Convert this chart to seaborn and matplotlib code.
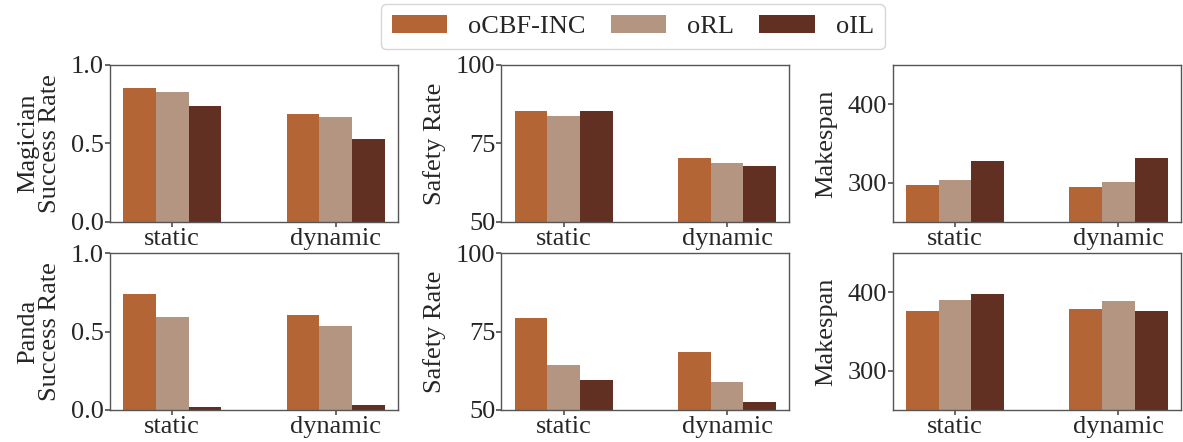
import numpy as np
import pandas as pd
import matplotlib.pyplot as plt
import seaborn as sns

sns.set_theme(style="ticks")
plt.rcParams['font.family'] = ['Liberation Serif', 'DejaVu Serif']

# data
methods = ["oCBF-INC", "oRL", "oIL"]
settings = ["static", "dynamic"]
colors = ["#B46536", "#B39582", "#622F23"]

# Magician (top row), values per method: [static, dynamic]
mag_success = {"oCBF-INC": [0.855, 0.689], "oRL": [0.830, 0.670], "oIL": [0.738, 0.528]}
mag_safety = {"oCBF-INC": [85.3, 70.3], "oRL": [83.7, 68.7], "oIL": [85.3, 67.8]}
mag_makespan = {"oCBF-INC": [296.6, 294.2], "oRL": [302.9, 300.2], "oIL": [327.1, 331.0]}

# Panda (bottom row)
pan_success = {"oCBF-INC": [0.740, 0.606], "oRL": [0.594, 0.536], "oIL": [0.021, 0.034]}
pan_safety = {"oCBF-INC": [79.2, 68.6], "oRL": [64.5, 59.0], "oIL": [59.7, 52.6]}
pan_makespan = {"oCBF-INC": [376.1, 378.7], "oRL": [390.2, 388.9], "oIL": [397.8, 376.1]}


def to_long(d):
    rows = []
    for m in methods:
        for s, v in zip(settings, d[m]):
            rows.append({"setting": s, "method": m, "value": v})
    return pd.DataFrame(rows)


panels = [
    [(mag_success, "Magician\nSuccess Rate", (0, 1), [0, 0.5, 1.0]),
     (mag_safety, "Safety Rate", (50, 100), [50, 75, 100]),
     (mag_makespan, "Makespan", (250, 450), [300, 400])],
    [(pan_success, "Panda\nSuccess Rate", (0, 1), [0, 0.5, 1.0]),
     (pan_safety, "Safety Rate", (50, 100), [50, 75, 100]),
     (pan_makespan, "Makespan", (250, 450), [300, 400])],
]

fig, axes = plt.subplots(2, 3, figsize=(11.83, 4.42), dpi=100)
fig.subplots_adjust(left=0.093, right=0.998, top=0.853, bottom=0.0724,
                    wspace=0.36, hspace=0.2)

fs = 19
for r in range(2):
    for c in range(3):
        ax = axes[r, c]
        d, lab, lim, ticks = panels[r][c]
        df = to_long(d)
        sns.barplot(data=df, x="setting", y="value", hue="method",
                    palette=colors, width=0.6, ax=ax, legend=(r == 0 and c == 0),
                    saturation=1, linewidth=0)
        ax.set_xlim(-0.38, 1.38)
        ax.set_ylim(*lim)
        ax.set_yticks(ticks)
        if ticks[1] == 0.5:
            ax.set_yticklabels(["0.0", "0.5", "1.0"])
        ax.set_xlabel("")
        ax.set_ylabel(lab, fontsize=fs, linespacing=1.0, labelpad=7)
        ax.tick_params(axis="both", labelsize=fs, pad=1, length=3.5, color="#555555")
        for sp in ax.spines.values():
            sp.set_color("#555555")
            sp.set_linewidth(1.0)

handles, labels = axes[0, 0].get_legend_handles_labels()
axes[0, 0].get_legend().remove()
fig.legend(handles, labels, loc="upper center", bbox_to_anchor=(0.535, 0.99),
           borderaxespad=0, ncol=3, fontsize=fs, frameon=True, handlelength=2.1,
           handletextpad=0.8, columnspacing=0.95, borderpad=0.4)

fig.savefig("out.png", dpi=100)
